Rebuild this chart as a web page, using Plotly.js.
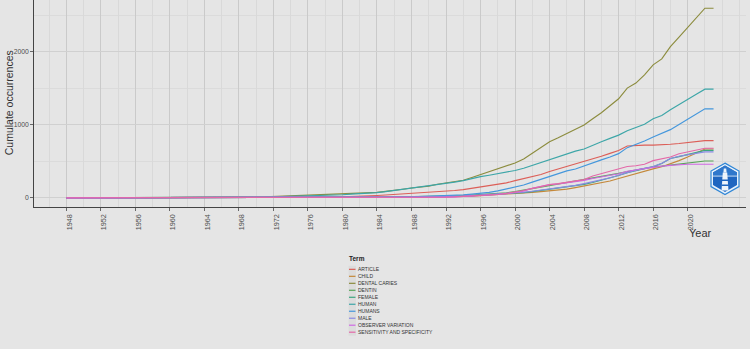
<!DOCTYPE html>
<html>
<head>
<meta charset="utf-8">
<script src="https://cdn.plot.ly/plotly-3.0.1.min.js"></script>
<style>html,body{margin:0;padding:0;background:#e5e5e5;overflow:hidden}#c{width:750px;height:349px}</style>
</head>
<body>
<div id="c"></div>
<script>
const years = [1948,1949,1950,1951,1952,1953,1954,1955,1956,1957,1958,1959,1960,1961,1962,1963,1964,1965,1966,1967,1968,1969,1970,1971,1972,1973,1974,1975,1976,1977,1978,1979,1980,1981,1982,1983,1984,1985,1986,1987,1988,1989,1990,1991,1992,1993,1994,1995,1996,1997,1998,1999,2000,2001,2002,2003,2004,2005,2006,2007,2008,2009,2010,2011,2012,2013,2014,2015,2016,2017,2018,2019,2020,2021,2022,2023];
const terms = ["ARTICLE","CHILD","DENTAL CARIES","DENTIN","FEMALE","HUMAN","HUMANS","MALE","OBSERVER VARIATION","SENSITIVITY AND SPECIFICITY"];
const colors = ["#dc5f58","#c4883a","#8c8c3e","#58a558","#3ca67f","#3da6a8","#4497dc","#8a8ae4","#cf69e4","#e468a8"];
const early = [0,0,0,0,0,0,0,0,0,0,0,0,0,0,0,0,0];
const article = [...early,0,0,1,1,1,2,2,3,3,4,5,6,7,8,10,12,15,20,26,32,38,45,52,60,68,78,85,92,100,112,130,150,165,185,205,235,260,285,320,360,395,430,460,490,530,570,610,650,710,718,722,722,725,735,745,760,775,785,785];
const child = [...early,0,0,0,0,0,1,1,1,2,2,2,3,3,3,3,4,4,5,5,6,6,7,8,9,10,11,12,14,16,19,24,30,36,42,50,58,66,75,85,96,108,120,140,160,185,205,230,265,300,330,360,397,425,465,510,560,620,670,670];
const dentalCaries = [...early,2,4,5,7,8,10,12,17,20,22,26,30,33,38,45,52,58,62,68,75,88,100,118,135,150,160,186,205,218,240,278,318,360,400,440,478,533,610,690,770,825,880,945,1000,1085,1167,1262,1358,1505,1573,1687,1823,1905,2074,2205,2335,2470,2600,2600];
const dentin = [...early,0,0,0,1,1,1,2,2,3,3,3,4,4,5,6,6,7,8,9,10,11,12,14,16,18,20,22,24,28,32,38,44,50,58,70,85,105,130,155,175,190,210,230,250,270,290,310,335,360,385,405,425,435,450,470,485,500,505,505];
const female = [...early,0,0,0,0,1,1,1,2,2,2,3,3,3,4,4,5,5,6,6,7,7,8,9,10,11,12,13,15,18,22,28,34,40,46,54,62,72,85,100,115,130,145,165,185,210,240,270,305,345,375,400,425,470,540,565,590,625,650,650];
const human = [...early,1,2,3,4,5,7,9,12,15,17,20,23,26,30,35,42,50,55,62,72,85,100,115,130,150,165,180,200,215,235,265,290,310,330,350,375,405,445,490,530,570,605,640,670,725,770,815,860,920,965,1010,1085,1130,1208,1275,1345,1420,1490,1490];
const humans = [...early,0,0,0,1,1,1,1,2,2,2,3,3,3,4,4,4,5,5,5,6,7,8,10,12,15,18,21,26,32,40,50,60,75,95,120,150,175,215,255,295,335,370,395,440,480,520,560,606,688,730,780,835,880,935,1005,1075,1150,1220,1220];
const male = [...early,0,0,0,0,1,1,1,1,2,2,2,3,3,3,4,4,5,5,6,6,7,8,9,10,11,12,14,16,19,24,30,36,42,48,56,66,76,90,105,120,135,150,170,195,220,245,275,310,350,380,405,430,475,540,570,590,610,630,630];
const observerVariation = [...early,0,0,0,0,0,0,0,0,0,1,1,1,1,1,1,1,2,2,2,3,3,4,4,5,6,7,8,10,13,18,24,30,38,46,56,70,90,130,160,180,190,205,220,240,265,285,305,330,365,385,405,420,435,445,455,460,460,460,460];
const sensitivity = [...early,0,0,0,0,0,0,0,0,0,0,0,1,1,1,1,1,1,2,2,3,3,4,4,5,6,7,8,10,13,18,24,30,38,46,60,75,100,130,160,180,195,210,225,250,300,330,360,390,430,440,460,510,540,560,605,630,665,680,680];
const series = [article,child,dentalCaries,dentin,female,human,humans,male,observerVariation,sensitivity];
const xTicks = [1948,1952,1956,1960,1964,1968,1972,1976,1980,1984,1988,1992,1996,2000,2004,2008,2012,2016,2020];
const yTicks = [0,1000,2000];

const W=750,H=349,L=34,R=746,T=0,B=207.5;
const px=x=>(x-L)/(R-L), py=y=>(B-y)/(B-T);
const poly=pts=>'M'+pts.map(p=>px(p[0])+','+py(p[1])).join('L')+'Z';
const shp=(pts,fill,line,w)=>({type:'path',xref:'paper',yref:'paper',path:poly(pts),fillcolor:fill,line:{color:line||fill,width:w||0},layer:'above'});

const traces = series.map((v,i)=>({x:years,y:v,name:terms[i],type:'scatter',mode:'lines',line:{color:colors[i],width:1.15},hoverinfo:'x+y+name'}));

const shapes=[{type:'rect',xref:'paper',yref:'paper',x0:px(348.5),x1:px(356),y0:py(266.5),y1:py(336.5),fillcolor:'#dcdcdc',line:{width:0},layer:'above'}];
const annotations=[
 {xref:'paper',yref:'paper',x:px(700),y:py(234),text:'Year',showarrow:false,font:{size:11,color:'#333',family:'Liberation Sans'},xanchor:'center',yanchor:'middle'},
 {xref:'paper',yref:'paper',x:px(349),y:py(259.5),text:'<b>Term</b>',showarrow:false,font:{size:6.5,color:'#222',family:'Liberation Sans'},xanchor:'left',yanchor:'middle',xshift:-2}
];
terms.forEach((t,i)=>{
  const y=270+7*i;
  shapes.push({type:'line',xref:'paper',yref:'paper',x0:px(349),x1:px(355.5),y0:py(y),y1:py(y),line:{color:colors[i],width:1.2},layer:'above'});
  annotations.push({xref:'paper',yref:'paper',x:px(359),y:py(y),text:t,showarrow:false,font:{size:5,color:'#333',family:'Liberation Sans'},xanchor:'left',yanchor:'middle',xshift:-2,borderpad:0});
});
// logo
const hex=[[725,163.5],[739,171.5],[739,187],[725,195],[711,187],[711,171.5]];
const hexIn=[[725,166],[737,173],[737,185.5],[725,192.5],[713,185.5],[713,173]];
shapes.push(shp(hex,'#e8f2fb','#2f86d6',1.2));
shapes.push(shp(hexIn,'#1f66c0'));
shapes.push(shp([[725,166],[737,173],[737,176],[713,176],[713,173]],'#2f78cc'));
shapes.push(shp([[713,176],[737,176],[737,177],[713,177]],'#cfe3f6'));
shapes.push(shp([[722.8,173],[727.2,173],[728.5,191],[721.5,191]],'#eef5fb'));
shapes.push(shp([[723.8,169],[726.2,169],[726.6,173],[723.4,173]],'#eef5fb'));
shapes.push(shp([[722,180],[728.3,180],[728.5,181.5],[721.9,181.5]],'#1f66c0'));
shapes.push(shp([[721.7,185],[728.7,185],[728.9,186.5],[721.6,186.5]],'#1f66c0'));

const xfont={size:7.2,color:'#4d4d4d',family:'Liberation Sans'};
const yfont={size:6.8,color:'#4d4d4d',family:'Liberation Sans'};
Plotly.newPlot('c',traces,{
  width:W,height:H,showlegend:false,
  paper_bgcolor:'#e5e5e5',plot_bgcolor:'#e5e5e5',
  margin:{l:L,r:W-R,t:T,b:H-B,pad:0},
  xaxis:{range:[1944.26,2026.76],tickmode:'array',tickvals:xTicks,ticktext:xTicks.map(String),tickangle:-90,tickfont:xfont,ticklabelshift:3,
    ticks:'outside',ticklen:3,tickwidth:0.7,tickcolor:'#333',showgrid:true,gridcolor:'#cacaca',gridwidth:1,zeroline:false,
    showline:true,linecolor:'#444',linewidth:1.3,
    minor:{tickmode:'linear',tick0:1946,dtick:2,showgrid:true,gridcolor:'#d6d6d6',gridwidth:0.8,ticks:''}},
  yaxis:{range:[-126,2713],tickmode:'array',tickvals:yTicks,ticktext:yTicks.map(String),tickfont:yfont,
    ticks:'outside',ticklen:2.5,tickwidth:0.7,tickcolor:'#333',showgrid:true,gridcolor:'#d0d0d0',gridwidth:1,zeroline:false,
    showline:true,linecolor:'#444',linewidth:1.3,
    minor:{tickmode:'linear',tick0:500,dtick:1000,showgrid:true,gridcolor:'#d8d8d8',gridwidth:0.8,ticks:''}},
  shapes,annotations:annotations.concat([{xref:'paper',yref:'paper',x:px(8.5),y:py(103),text:'Cumulate occurrences',textangle:-90,showarrow:false,font:{size:10.5,color:'#333',family:'Liberation Sans'},xanchor:'center',yanchor:'middle'}])
},{displayModeBar:false,staticPlot:true});
</script>
</body>
</html>
